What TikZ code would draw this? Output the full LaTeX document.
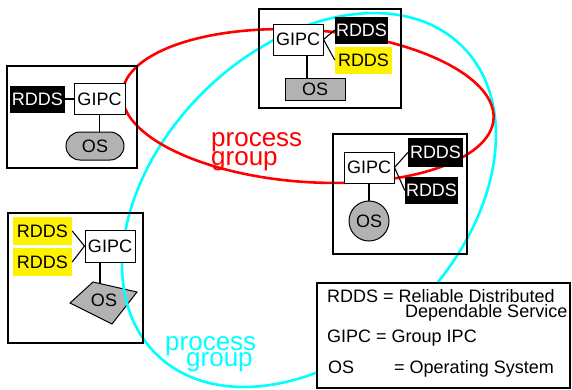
\documentclass[tikz,border=0pt]{standalone}
\usepackage{fontspec}
\setmainfont{Liberation Sans}
\definecolor{cian}{RGB}{0,255,255}
\definecolor{rojo}{RGB}{255,0,0}
\begin{document}
\begin{tikzpicture}[x=1pt, y=-1pt,
        % Marcos de cada máquina
        host/.style={draw, line width=1.3pt, inner sep=0pt},
        % Cajas de texto (GIPC, RDDS, OS)
        gipc/.style={draw, fill=white, line width=1pt, inner sep=0pt, minimum width=50pt, minimum height=31pt, font=\fontsize{18}{20}\selectfont},
        rdds/.style={fill=black, text=white, inner sep=0pt, minimum height=27pt, font=\fontsize{18}{20}\selectfont},
        rddsy/.style={rdds, fill=yellow, text=black},
        os/.style={draw, fill=gray!60, line width=1pt, inner sep=0pt, font=\fontsize{18}{20}\selectfont},
        % Conexiones y grupos de procesos
        link/.style={black, line width=1.1pt},
        grupo/.style={line width=2.6pt},
        etiqueta/.style={anchor=base west, inner sep=0pt, font=\fontsize{26}{26}\selectfont},
        leyenda/.style={anchor=base west, inner sep=0pt, font=\fontsize{18}{20}\selectfont}
    ]
        \useasboundingbox (0,0) rectangle (572,389);

        % Polígono del OS de abajo (queda debajo del grupo cian)
        \filldraw[fill=gray!60, line width=1pt] (70,303) -- (93,282) -- (137,292) -- (112,324) -- cycle;
        \coordinate (osDtop) at (100,283.6);

        % Grupos de procesos
        \draw[cian, grupo, rotate around={45:(309,200)}] (309,200) ellipse [x radius=217pt, y radius=151pt];
        \draw[rojo, grupo, rotate around={-4:(308,106)}] (308,106) ellipse [x radius=186pt, y radius=76pt];

        % Máquina A
        \node[host, minimum width=130pt, minimum height=102pt] (hostA) at (72,117) {};
        \node[rdds, minimum width=55pt] (rddsA) at (37.5,99) {RDDS};
        \node[gipc, minimum width=51pt] (gipcA) at (99.5,99) {GIPC};
        \node[os, rounded corners=14pt, minimum width=58pt, minimum height=28pt] (osA) at (95,146) {OS};
        \draw[link] (rddsA) -- (gipcA);
        \draw[link] (gipcA.south) -- (gipcA.south |- osA.north);

        % Máquina B
        \node[host, minimum width=142pt, minimum height=99pt] (hostB) at (330,58.5) {};
        \node[gipc] (gipcB) at (298,39.5) {GIPC};
        \node[rdds, minimum width=53pt] (rddsB1) at (361.5,30) {RDDS};
        \node[rddsy, minimum width=57pt] (rddsB2) at (363.5,60) {RDDS};
        \node[os, minimum width=60pt, minimum height=22pt] (osB) at (315,89) {OS};
        \coordinate (pB) at (307,0);
        \draw[link] (gipcB.east) -- (rddsB1.west);
        \draw[link] (gipcB.east) -- (rddsB2.west);
        \draw[link] (gipcB.south -| pB) -- (osB.north -| pB);

        % Máquina C
        \node[host, minimum width=134pt, minimum height=120pt] (hostC) at (400,194) {};
        \node[gipc] (gipcC) at (369,167.5) {GIPC};
        \node[rdds, minimum width=55pt, minimum height=29pt] (rddsC1) at (435.5,152.5) {RDDS};
        \node[rdds, minimum width=53pt] (rddsC2) at (431.5,190.5) {RDDS};
        \node[os, circle, minimum size=40pt] (osC) at (369,221) {OS};
        \draw[link] (gipcC.east) -- (rddsC1.west);
        \draw[link] (gipcC.east) -- (rddsC2.west);
        \draw[link] (gipcC.south) -- (osC.north);

        % Máquina D
        \node[host, minimum width=135pt, minimum height=130pt] (hostD) at (75.5,278) {};
        \node[rddsy, minimum width=59pt, minimum height=28pt] (rddsD1) at (42.5,231) {RDDS};
        \node[rddsy, minimum width=59pt, minimum height=28pt] (rddsD2) at (42.5,262) {RDDS};
        \node[gipc, minimum height=32pt] (gipcD) at (110,246) {GIPC};
        \node[inner sep=0pt, font=\fontsize{18}{20}\selectfont] (osD) at (104,300) {OS};
        \draw[link] (rddsD1.east) -- (gipcD.west);
        \draw[link] (rddsD2.east) -- (gipcD.west);
        \draw[link] (gipcD.south -| osDtop) -- (osDtop);

        % Etiquetas de los grupos
        \node[etiqueta, rojo] (grupoR1) at (211,146) {process};
        \node[etiqueta, rojo] (grupoR2) at (211,165) {group};
        \node[etiqueta, cian] (grupoC1) at (165,350) {process};
        \node[etiqueta, cian] (grupoC2) at (186,366) {group};

        % Leyenda
        \node[host, fill=white, minimum width=253pt, minimum height=105pt] (ley) at (443.5,335.5) {};
        \node[leyenda] (ley1) at (327,302) {RDDS = Reliable Distributed};
        \node[leyenda] (ley2) at (405,317) {Dependable Service};
        \node[leyenda] (ley3) at (327,342) {GIPC = Group IPC};
        \node[leyenda] (ley4) at (328,373) {OS\hspace{40pt}= Operating System};

    \end{tikzpicture}
\end{document}
